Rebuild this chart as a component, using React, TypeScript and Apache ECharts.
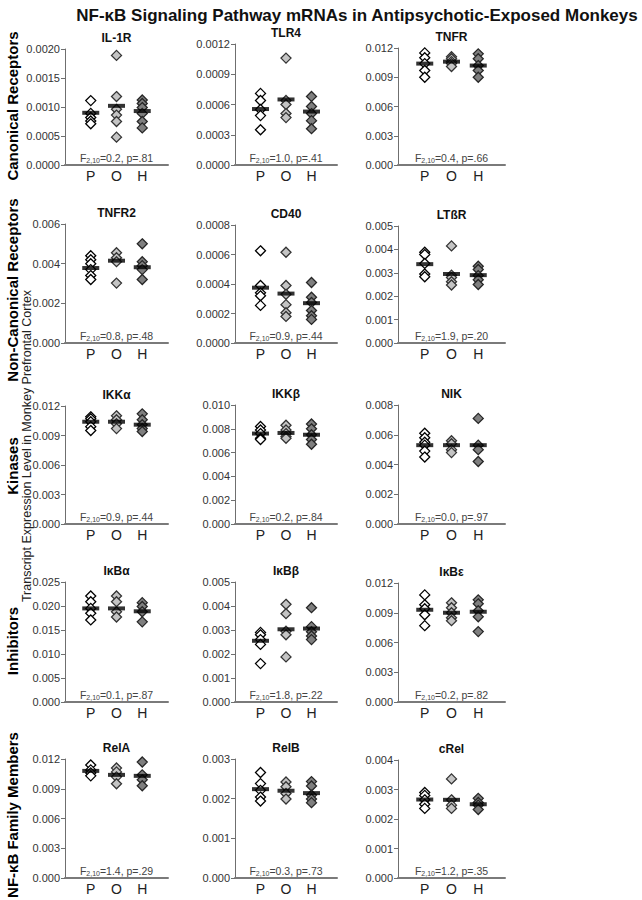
import React, { useEffect, useRef } from "react";
import * as echarts from "echarts";

const MAIN_TITLE = "NF-κB Signaling Pathway mRNAs in Antipsychotic-Exposed Monkeys";
const Y_TITLE = "Transcript Expression Level in Monkey Prefrontal Cortex";
const ROW_LABELS = ["Canonical Receptors", "Non-Canonical Receptors", "Kinases", "Inhibitors", "NF-κB Family Members"];
const GROUPS = ["P", "O", "H"];
const GENES = ["IL-1R", "TLR4", "TNFR", "TNFR2", "CD40", "LTßR", "IKKα", "IKKβ", "NIK", "IκBα", "IκBβ", "IκBε", "RelA", "RelB", "cRel"];

// individual animals per group: P (white), O (light gray), H (dark gray)
const VALUES_P = [
  [0.00111, 0.00089, 0.00082, 0.00076, 0.00071],
  [0.00071, 0.00064, 0.00055, 0.00049, 0.00035],
  [0.0115, 0.011, 0.0104, 0.0097, 0.009],
  [0.0044, 0.0042, 0.004, 0.0037, 0.0034, 0.0032],
  [0.000625, 0.00039, 0.00034, 0.00032, 0.000255],
  [0.00388, 0.00378, 0.0034, 0.00295, 0.00283],
  [0.0109, 0.0107, 0.0104, 0.0099, 0.0095],
  [0.0082, 0.0079, 0.0076, 0.0072, 0.0071],
  [0.0061, 0.0058, 0.0055, 0.0053, 0.0049, 0.0045],
  [0.0221, 0.0209, 0.0195, 0.0185, 0.0171],
  [0.0029, 0.0028, 0.0026, 0.0024, 0.0016],
  [0.0108, 0.0098, 0.0094, 0.0088, 0.0077],
  [0.0114, 0.0109, 0.0106, 0.0103],
  [0.00266, 0.00238, 0.00221, 0.00204, 0.00194],
  [0.0029, 0.0028, 0.00265, 0.0025, 0.00236],
];
const VALUES_O = [
  [0.00189, 0.00118, 0.00096, 0.00086, 0.00075, 0.00048],
  [0.00106, 0.00064, 0.0006, 0.00051, 0.00047],
  [0.0111, 0.0109, 0.0106, 0.0104, 0.0101],
  [0.00455, 0.0043, 0.0041, 0.00302],
  [0.000615, 0.00039, 0.00033, 0.00026, 0.000205, 0.00018],
  [0.00415, 0.0029, 0.0028, 0.00262, 0.00248],
  [0.011, 0.0106, 0.0102, 0.0097],
  [0.0083, 0.0079, 0.0076, 0.00735, 0.0072],
  [0.0056, 0.0054, 0.005, 0.0048],
  [0.0221, 0.0209, 0.0188, 0.0177],
  [0.00407, 0.00368, 0.00295, 0.0028, 0.00188],
  [0.01, 0.0095, 0.009, 0.0085, 0.0082],
  [0.0111, 0.0107, 0.0102, 0.0095],
  [0.00242, 0.0023, 0.00213, 0.00199],
  [0.00336, 0.00265, 0.00247, 0.00236],
];
const VALUES_H = [
  [0.00112, 0.00106, 0.00099, 0.00089, 0.00075, 0.00064],
  [0.00068, 0.00058, 0.00051, 0.00044, 0.00036],
  [0.0114, 0.0109, 0.0102, 0.0097, 0.009],
  [0.005, 0.0041, 0.0039, 0.0037, 0.0032],
  [0.00041, 0.00031, 0.000275, 0.00022, 0.000185, 0.00016],
  [0.00328, 0.00314, 0.00288, 0.0027, 0.0025],
  [0.0112, 0.0106, 0.0101, 0.0097, 0.0094],
  [0.0084, 0.008, 0.0075, 0.0071, 0.0067],
  [0.0071, 0.0053, 0.005, 0.0042],
  [0.0207, 0.0199, 0.0188, 0.0167],
  [0.00393, 0.00314, 0.00293, 0.00275, 0.0026],
  [0.0103, 0.0099, 0.0092, 0.0086, 0.0071],
  [0.0117, 0.0104, 0.0099, 0.0093],
  [0.00243, 0.00232, 0.00209, 0.00199, 0.0019],
  [0.0027, 0.00256, 0.00247, 0.00232],
];
const MEAN_P = [0.0009, 0.000555, 0.0104, 0.00378, 0.000375, 0.00337, 0.0104, 0.0076, 0.0053, 0.0195, 0.00255, 0.0093, 0.0108, 0.00224, 0.00266];
const MEAN_O = [0.00102, 0.00065, 0.0106, 0.00415, 0.000335, 0.00295, 0.0104, 0.00765, 0.0053, 0.0195, 0.00303, 0.009, 0.0104, 0.0022, 0.00265];
const MEAN_H = [0.00093, 0.00053, 0.0102, 0.00382, 0.00027, 0.0029, 0.0101, 0.0075, 0.0053, 0.0189, 0.00306, 0.0091, 0.0103, 0.00214, 0.0025];

const Y_MAX = [0.002, 0.0012, 0.012, 0.006, 0.0008, 0.005, 0.012, 0.01, 0.008, 0.025, 0.005, 0.012, 0.012, 0.003, 0.004];
const Y_STEP = [0.0005, 0.0003, 0.003, 0.002, 0.0002, 0.001, 0.003, 0.002, 0.002, 0.005, 0.001, 0.003, 0.003, 0.001, 0.001];
const Y_DECIMALS = [4, 4, 3, 3, 4, 3, 3, 3, 3, 3, 3, 3, 3, 3, 3];
const F_VALUES = ["0.2", "1.0", "0.4", "0.8", "0.9", "1.9", "0.9", "0.2", "0.0", "0.1", "1.8", "0.2", "1.4", "0.3", "1.2"];
const P_VALUES = [".81", ".41", ".66", ".48", ".44", ".20", ".44", ".84", ".97", ".87", ".22", ".82", ".29", ".73", ".35"];

// layout
const COL_LEFT = [65, 235, 398];
const COL_WIDTH = [103, 102, 107];
const ROW_BOTTOM = [165, 343, 524, 702, 878];
const GRID_TOP = [49, 44, 48, 224, 225, 226, 406, 405, 405, 582, 582, 583, 759, 759, 760];
const ROW_LABEL_Y = [106, 290, 466, 641, 815];

const FILL = ["#ffffff", "#c4c4c4", "#7f7f7f"];
const STROKE = ["#000000", "#333333", "#262626"];
const FONT = "'Liberation Sans', Arial, sans-serif";
const NARROW = "'Liberation Sans Narrow', 'Arial Narrow', 'Liberation Sans', Arial, sans-serif";

export default function App() {
  const ref = useRef<HTMLDivElement>(null);
  useEffect(() => {
    document.body.style.margin = "0";
    if (!ref.current) return;
    const chart = echarts.init(ref.current, undefined, { renderer: "svg" });
    const grid: any[] = [];
    const xAxis: any[] = [];
    const yAxis: any[] = [];
    const series: any[] = [];
    const graphic: any[] = [];

    graphic.push({
      type: "text", x: 357, y: 15,
      style: { text: MAIN_TITLE, fontFamily: FONT, fontWeight: "bold", fontSize: 17, fill: "#111", align: "center", verticalAlign: "middle" },
    });
    graphic.push({
      type: "text", x: 27, y: 446, rotation: Math.PI / 2,
      style: { text: Y_TITLE, fontFamily: FONT, fontSize: 12.5, fill: "#222", align: "center", verticalAlign: "middle" },
    });
    ROW_LABELS.forEach((t, r) => {
      graphic.push({
        type: "text", x: 12, y: ROW_LABEL_Y[r], rotation: Math.PI / 2,
        style: { text: t, fontFamily: FONT, fontWeight: "bold", fontSize: 15, fill: "#000", align: "center", verticalAlign: "middle" },
      });
    });

    GENES.forEach((gene, i) => {
      const r = Math.floor(i / 3);
      const c = i % 3;
      const top = GRID_TOP[i];
      const bottom = ROW_BOTTOM[r];
      const cx = COL_LEFT[c] + COL_WIDTH[c] / 2;
      grid.push({ left: COL_LEFT[c], top, width: COL_WIDTH[c], height: bottom - top, containLabel: false, outerBoundsMode: "none" });
      xAxis.push({
        gridIndex: i, type: "value", min: 0, max: 4, interval: 1,
        axisLine: { show: true, lineStyle: { color: "#7a7a7a", width: 2 } },
        axisTick: { show: false }, splitLine: { show: false },
        axisLabel: {
          show: true, margin: 4, fontSize: 14, fontFamily: FONT, color: "#222",
          formatter: (v: number) => GROUPS[v - 1] || "",
        },
      });
      const dec = Y_DECIMALS[i];
      yAxis.push({
        gridIndex: i, type: "value", min: 0, max: Y_MAX[i], interval: Y_STEP[i],
        axisLine: { show: true, lineStyle: { color: "#6f6f6f", width: 1 } },
        axisTick: { show: true, inside: false, length: 4, lineStyle: { color: "#6f6f6f" } },
        splitLine: { show: false },
        axisLabel: { margin: 5, fontSize: 11, fontFamily: NARROW, color: "#333", formatter: (v: number) => v.toFixed(dec) },
      });
      const groups = [VALUES_P[i], VALUES_O[i], VALUES_H[i]];
      groups.forEach((vals, g) => {
        series.push({
          type: "scatter", xAxisIndex: i, yAxisIndex: i, silent: true,
          symbol: "diamond", symbolSize: [10, 10],
          itemStyle: { color: FILL[g], borderColor: STROKE[g], borderWidth: 1.3, opacity: 1 },
          data: vals.map((v) => [g + 1, v]), z: 2,
        });
      });
      series.push({
        type: "scatter", xAxisIndex: i, yAxisIndex: i, silent: true,
        symbol: "rect", symbolSize: [17, 4],
        itemStyle: { color: "#000" },
        data: [[1, MEAN_P[i]], [2, MEAN_O[i]], [3, MEAN_H[i]]], z: 5,
      });
      graphic.push({
        type: "text", x: cx, y: top - 11,
        style: { text: gene, fontFamily: FONT, fontWeight: "bold", fontSize: 12, fill: "#111", align: "center", verticalAlign: "middle" },
      });
      graphic.push({
        type: "text", x: cx, y: bottom - 7,
        style: {
          text: `{a|F}{b|2,10}{a|=${F_VALUES[i]}, p=${P_VALUES[i]}}`,
          align: "center", verticalAlign: "middle",
          rich: {
            a: { fontFamily: NARROW, fontSize: 10.5, fill: "#444", lineHeight: 12 },
            b: { fontFamily: NARROW, fontSize: 7, fill: "#444", verticalAlign: "bottom", lineHeight: 12 },
          },
        },
      });
    });

    chart.setOption({
      animation: false,
      backgroundColor: "#fff",
      grid, xAxis, yAxis, series, graphic,
    });
    return () => chart.dispose();
  }, []);
  return <div ref={ref} style={{ width: 642, height: 900 }} />;
}
